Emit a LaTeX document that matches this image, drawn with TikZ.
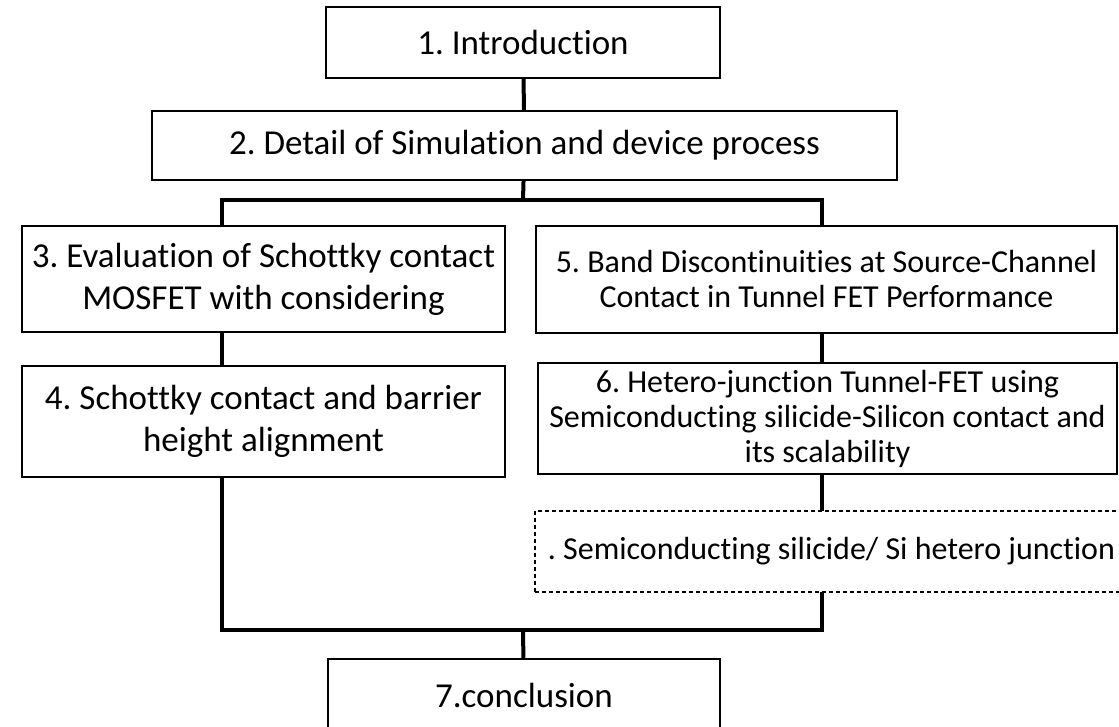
\documentclass[tikz,border=0pt]{standalone}
\usepackage{fontspec}
\setmainfont{Carlito}[Ligatures=NoCommon]
\frenchspacing
\begin{document}
\begin{tikzpicture}[x=0.5pt, y=-0.5pt,
        box/.style={draw, line width=0.75pt, inner sep=0pt, outer sep=0pt, align=center, font=\fontsize{17.5}{21}\selectfont},
        smallbox/.style={box, font=\fontsize{16}{17.5}\selectfont},
        dashbox/.style={smallbox, dash pattern=on 2pt off 1.5pt},
        link/.style={line width=2pt}]
        \useasboundingbox (0, 0) rectangle (1119, 727);

        \node[box, minimum width=197pt, minimum height=35.5pt] (intro) at (523, 42.5) {1. Introduction};
        \node[box, minimum width=372.5pt, minimum height=34.5pt] (detail) at (524.5, 145.5) {2. Detail of Simulation and device process};
        \node[box, minimum width=241.5pt, minimum height=53pt] (eval) at (263.5, 279) {3. Evaluation of Schottky contact\\MOSFET with considering};
        \node[box, minimum width=241.5pt, minimum height=55.5pt] (schottky) at (263.5, 421.5) {4. Schottky contact and barrier\\height alignment};
        \node[smallbox, minimum width=290.5pt, minimum height=53.5pt] (band) at (826.5, 279.5) {5. Band Discontinuities at Source-Channel\\Contact in Tunnel FET Performance};
        \node[smallbox, minimum width=289.5pt, minimum height=55.5pt] (hetero) at (827.5, 418.5) {6. Hetero-junction Tunnel-FET using\\Semiconducting silicide-Silicon contact and\\its scalability};
        \node[dashbox, minimum width=296.5pt, minimum height=40.5pt] (silicide) at (831.5, 551.5) {. Semiconducting silicide/ Si hetero junction};
        \node[box, minimum width=196pt, minimum height=36pt] (concl) at (524, 695) {7.conclusion};

        \coordinate (jl) at (222, 200);
        \coordinate (jc) at (523, 200);
        \coordinate (jr) at (822, 200);
        \coordinate (bl) at (222, 630);
        \coordinate (bc) at (523, 630);
        \coordinate (br) at (822, 630);

        \draw[link] (intro) -- (detail);
        \draw[link] (detail) -- (jc);
        \draw[link] (jl |- eval.north) -- (jl) -- (jr) -- (jr |- band.north);
        \draw[link] (eval.south -| jl) -- (schottky.north -| jl);
        \draw[link] (band.south -| jr) -- (hetero.north -| jr);
        \draw[link] (hetero.south -| jr) -- (silicide.north -| jr);
        \draw[link] (schottky.south -| bl) -- (bl) -- (br) -- (silicide.south -| br);
        \draw[link] (bc) -- (concl);

    \end{tikzpicture}
\end{document}
